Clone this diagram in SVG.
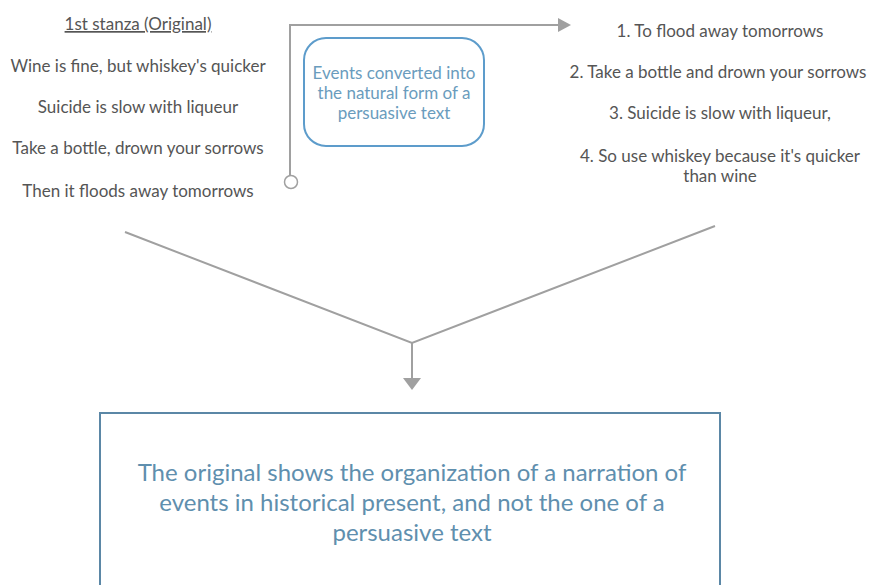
<svg xmlns="http://www.w3.org/2000/svg" width="872" height="585" viewBox="0 0 872 585">
<style>
.t{font-family:Lato,"Liberation Sans",sans-serif;font-size:17px;fill:#555;text-anchor:middle}
.b{font-family:Lato,"Liberation Sans",sans-serif;font-size:17px;fill:#6a9cbd;text-anchor:middle}
.big{font-family:Lato,"Liberation Sans",sans-serif;font-size:24px;fill:#5f8fae;text-anchor:middle}
.c{stroke:#a0a0a0;stroke-width:2;fill:none}
</style>
<rect width="872" height="585" fill="#fff"/>
<g id="left">
<text class="t" x="138" y="30" text-decoration="underline">1st stanza (Original)</text>
<text class="t" x="138" y="72">Wine is fine, but whiskey's quicker</text>
<text class="t" x="138" y="113">Suicide is slow with liqueur</text>
<text class="t" x="138" y="154">Take a bottle, drown your sorrows</text>
<text class="t" x="138" y="197">Then it floods away tomorrows</text>
</g>
<g id="mid">
<rect x="304" y="38" width="180" height="108" rx="22" fill="#fff" stroke="#5d9ccb" stroke-width="2"/>
<text class="b" x="394" y="79">Events converted into</text>
<text class="b" x="394" y="99">the natural form of a</text>
<text class="b" x="394" y="119">persuasive text</text>
</g>
<g id="right">
<text class="t" x="720" y="37">1. To flood away tomorrows</text>
<text class="t" x="718" y="78">2. Take a bottle and drown your sorrows</text>
<text class="t" x="720" y="119">3. Suicide is slow with liqueur,</text>
<text class="t" x="720" y="162">4. So use whiskey because it's quicker</text>
<text class="t" x="720" y="182">than wine</text>
</g>
<g id="result">
<rect x="100" y="413" width="620" height="180" fill="#fff" stroke="#5b87a6" stroke-width="2"/>
<text class="big" x="412" y="481">The original shows the organization of a narration of</text>
<text class="big" x="412" y="511">events in historical present, and not the one of a</text>
<text class="big" x="412" y="541">persuasive text</text>
</g>
<g id="connectors">
<polyline class="c" points="290,176 290,25 559,25"/>
<circle cx="291" cy="182" r="6.5" fill="#fff" stroke="#a0a0a0" stroke-width="1.5"/>
<polygon points="558,18 571,25 558,32" fill="#a0a0a0"/>
<polyline class="c" points="125,232 412,343 715,226"/>
<line class="c" x1="412" y1="343" x2="412" y2="379"/>
<polygon points="403,378 421,378 412,390" fill="#a0a0a0"/>
</g>
</svg>
